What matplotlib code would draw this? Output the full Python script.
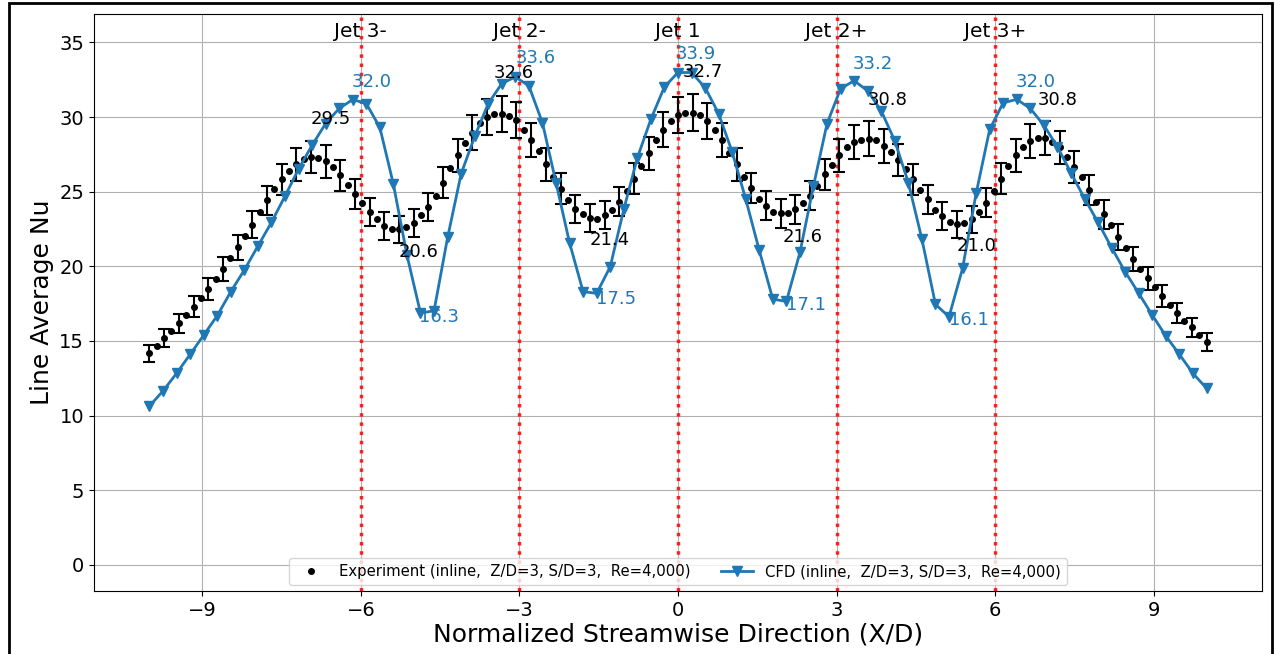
import numpy as np
import matplotlib
matplotlib.use("Agg")
import matplotlib.pyplot as plt
from matplotlib.patches import Rectangle

# Experiment: line-averaged Nu along the streamwise direction
exp_x = np.linspace(-10, 10, 145)
exp_nu = [
    14.17, 14.66, 15.17, 15.68, 16.18, 16.71, 17.29, 17.85, 18.47, 19.16,
    19.81, 20.57, 21.26, 22.02, 22.80, 23.63, 24.41, 25.15, 25.82, 26.37,
    26.82, 27.22, 27.33, 27.26, 27.02, 26.62, 26.10, 25.45, 24.83, 24.23,
    23.64, 23.16, 22.70, 22.51, 22.47, 22.60, 22.91, 23.43, 23.98, 24.72,
    25.61, 26.57, 27.44, 28.27, 28.96, 29.61, 30.01, 30.23, 30.19, 30.10,
    29.79, 29.16, 28.45, 27.71, 26.82, 25.99, 25.21, 24.43, 23.85, 23.49,
    23.23, 23.20, 23.41, 23.76, 24.34, 25.05, 25.88, 26.75, 27.56, 28.45,
    29.16, 29.74, 30.12, 30.28, 30.30, 30.12, 29.72, 29.12, 28.45, 27.62,
    26.82, 25.99, 25.25, 24.54, 24.05, 23.65, 23.54, 23.54, 23.81, 24.21,
    24.74, 25.41, 26.15, 26.77, 27.44, 27.96, 28.35, 28.49, 28.56, 28.45,
    28.05, 27.66, 27.11, 26.49, 25.82, 25.10, 24.48, 23.76, 23.36, 22.94,
    22.82, 22.91, 23.14, 23.65, 24.25, 25.04, 25.87, 26.72, 27.44, 28.00,
    28.38, 28.58, 28.60, 28.33, 27.96, 27.31, 26.66, 25.95, 25.10, 24.28,
    23.47, 22.76, 21.97, 21.20, 20.48, 19.79, 19.19, 18.59, 18.01, 17.40,
    16.89, 16.35, 15.91, 15.37, 14.91,
]
exp_uncertainty = 0.04  # relative uncertainty of the measurement

# CFD prediction
cfd_x = np.linspace(-10, 10, 79)
cfd_nu = [
    10.64, 11.65, 12.83, 14.10, 15.39, 16.69, 18.30, 19.75, 21.35, 22.94,
    24.70, 26.51, 28.11, 29.56, 30.57, 31.17, 30.90, 29.30, 25.50, 20.75,
    16.87, 17.02, 21.93, 26.20, 28.70, 30.90, 32.24, 32.69, 32.08, 29.61,
    25.60, 21.57, 18.30, 18.19, 19.97, 23.81, 27.26, 29.85, 32.02, 32.98,
    32.98, 31.97, 30.23, 27.66, 24.50, 21.06, 17.80, 17.65, 20.93, 25.39,
    29.56, 31.90, 32.43, 31.75, 30.41, 28.40, 25.60, 21.82, 17.45, 16.62,
    19.86, 24.88, 29.17, 30.95, 31.18, 30.57, 29.45, 28.00, 26.26, 24.54,
    22.94, 21.24, 19.63, 18.19, 16.73, 15.33, 14.10, 12.83, 11.83,
]

jet_x = [-6, -3, 0, 3, 6]
jet_names = ["Jet 3-", "Jet 2-", "Jet 1", "Jet 2+", "Jet 3+"]

# annotated peak / valley values and where their text sits
exp_peak_vals = [29.5, 32.6, 32.7, 30.8, 30.8]
exp_peak_pos = [-6.57, -3.11, 0.47, 3.96, 7.19]
exp_valley_vals = [20.6, 21.4, 21.6, 21.0]
exp_valley_pos = [-4.90, -1.30, 2.35, 5.65]
cfd_peak_vals = [32.0, 33.6, 33.9, 33.2, 32.0]
cfd_peak_pos = [-5.79, -2.70, 0.33, 3.69, 6.77]
cfd_valley_vals = [16.3, 17.5, 17.1, 16.1]
cfd_valley_pos = [-4.53, -1.17, 2.43, 5.50]

blue = "#1f77b4"

fig = plt.figure(figsize=(12.75, 6.54), dpi=100)
ax = fig.add_axes([0.0737, 0.0963, 0.9161, 0.8823])

exp_nu = np.array(exp_nu)
err_idx = np.arange(0, len(exp_x), 2)
ax.errorbar(exp_x[err_idx], exp_nu[err_idx], yerr=exp_nu[err_idx] * exp_uncertainty,
            fmt="none", ecolor="black", elinewidth=1.5, capsize=4, capthick=1.5, zorder=3)
ax.plot(exp_x, exp_nu, "o", color="black", ms=4, zorder=4,
        label="Experiment (inline,  Z/D=3, S/D=3,  Re=4,000)")
ax.plot(cfd_x, cfd_nu, "-v", color=blue, lw=2, ms=6.5, zorder=5,
        label="CFD (inline,  Z/D=3, S/D=3,  Re=4,000)")

for xj, name in zip(jet_x, jet_names):
    ax.axvline(xj, color="red", ls=":", lw=2.5, alpha=0.85, zorder=2)
    ax.text(xj, 35.35, name, ha="center", va="baseline", fontsize=14.5)

for v, p in zip(exp_peak_vals + exp_valley_vals, exp_peak_pos + exp_valley_pos):
    ax.text(p, v, f"{v:.1f}", ha="center", va="baseline", fontsize=13, color="black", zorder=6)
for v, p in zip(cfd_peak_vals + cfd_valley_vals, cfd_peak_pos + cfd_valley_pos):
    ax.text(p, v, f"{v:.1f}", ha="center", va="baseline", fontsize=13, color=blue, zorder=6)

ax.set_xlim(-11.05, 11.05)
ax.set_ylim(-1.75, 36.9)
ax.set_xticks([-9, -6, -3, 0, 3, 6, 9])
ax.set_yticks(range(0, 36, 5))
ax.tick_params(labelsize=14)
ax.grid(True, color="#b0b0b0", lw=0.8)
ax.set_axisbelow(True)
ax.set_xlabel("Normalized Streamwise Direction (X/D)", fontsize=18, labelpad=2)
ax.set_ylabel("Line Average Nu", fontsize=18)

ax.legend(loc="lower center", ncol=2, handlelength=2.2, fontsize=10.7,
          borderaxespad=0.4, columnspacing=2.0)

# outer frame around the whole figure
fig.patches.append(Rectangle((9 / 1275, -0.02), 1263 / 1275, 1.02 - 3 / 654,
                             transform=fig.transFigure, fill=False,
                             edgecolor="black", lw=2))

fig.savefig("out.png", dpi=100)
